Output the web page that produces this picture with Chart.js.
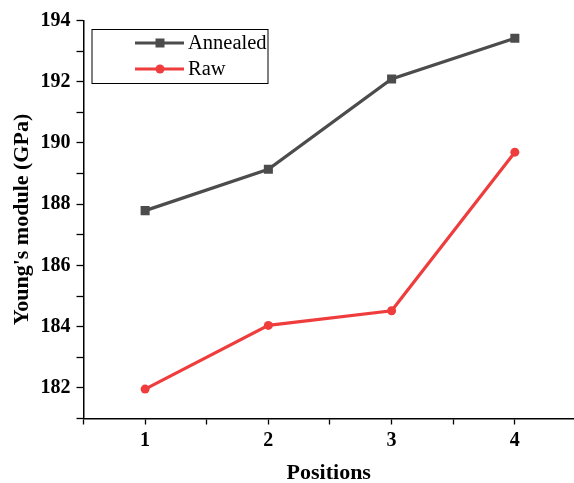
<!DOCTYPE html>
<html>
<head>
<meta charset="utf-8">
<script src="https://cdn.jsdelivr.net/npm/chart.js@4.4.0/dist/chart.umd.min.js"></script>
<style>
  html, body { margin: 0; padding: 0; background: #ffffff; }
  #wrap { width: 574px; height: 483px; }
</style>
</head>
<body>
<div id="wrap"><canvas id="chart" width="574" height="483"></canvas></div>
<script>
// Measurement positions along the specimen
const positions = [1, 2, 3, 4];
// Young's modulus (GPa) at each position
const annealed = [187.79, 189.14, 192.09, 193.42];
const raw = [181.96, 184.04, 184.52, 189.70];
const seriesNames = ['Annealed', 'Raw'];
const xTitle = 'Positions';
const yTitle = "Young's module (GPa)";

const serif = "'Liberation Serif', 'Times New Roman', serif";
const grey = '#4c4c4c';
const red = '#ef3d3d';

function toPoints(vals) {
  return positions.map((p, i) => ({ x: p, y: vals[i] }));
}

// Boxed legend drawn inside the plot area, upper left
const boxedLegend = {
  id: 'boxedLegend',
  afterDraw(chart) {
    const ctx = chart.ctx;
    const area = chart.chartArea;
    const left = area.left + 8.5, top = 29.5, w = 176, h = 54;
    ctx.save();
    ctx.strokeStyle = '#000';
    ctx.lineWidth = 1;
    ctx.strokeRect(left, top, w, h);
    const rows = [43, 69];
    chart.data.datasets.forEach((ds, i) => {
      const y = rows[i];
      ctx.strokeStyle = ds.borderColor;
      ctx.lineWidth = 3;
      ctx.beginPath();
      ctx.moveTo(135, y);
      ctx.lineTo(184, y);
      ctx.stroke();
      ctx.fillStyle = ds.pointBackgroundColor;
      if (ds.pointStyle === 'rect') {
        ctx.fillRect(160 - 4.5, y - 4.5, 9, 9);
      } else {
        ctx.beginPath();
        ctx.arc(160, y, 4.5, 0, Math.PI * 2);
        ctx.fill();
      }
      ctx.fillStyle = '#000';
      ctx.font = '20.5px ' + serif;
      ctx.textBaseline = 'middle';
      ctx.textAlign = 'left';
      ctx.fillText(ds.label, 188, y + 1);
    });
    ctx.restore();
  }
};

new Chart(document.getElementById('chart'), {
  type: 'line',
  data: {
    datasets: [
      {
        label: seriesNames[0],
        data: toPoints(annealed),
        borderColor: grey,
        backgroundColor: grey,
        pointBackgroundColor: grey,
        pointBorderColor: grey,
        pointStyle: 'rect',
        pointRadius: 6.4,
        pointBorderWidth: 0,
        borderWidth: 3.2,
        tension: 0
      },
      {
        label: seriesNames[1],
        data: toPoints(raw),
        borderColor: red,
        backgroundColor: red,
        pointBackgroundColor: red,
        pointBorderColor: red,
        pointStyle: 'circle',
        pointRadius: 4.5,
        pointBorderWidth: 0,
        borderWidth: 3.2,
        tension: 0
      }
    ]
  },
  options: {
    responsive: false,
    animation: false,
    layout: { autoPadding: false, padding: { top: 20.5, right: 0, bottom: 0, left: 0 } },
    plugins: {
      legend: { display: false },
      tooltip: { enabled: false }
    },
    scales: {
      x: {
        type: 'linear',
        min: 0.5,
        max: 4.48,
        afterFit(scale) {
          scale.height = 64.5;
          scale.paddingLeft = 0;
          scale.paddingRight = 0;
        },
        afterBuildTicks(scale) {
          const t = [];
          for (let v = 0.5; v <= 4.0001; v += 0.5) t.push({ value: v });
          scale.ticks = t;
        },
        grid: {
          display: true,
          drawOnChartArea: false,
          drawTicks: true,
          tickLength: 6,
          tickWidth: 1.3,
          tickColor: '#000'
        },
        border: { display: true, color: '#000', width: 1.5 },
        ticks: {
          autoSkip: false,
          maxRotation: 0,
          padding: 4,
          color: '#000',
          font: { family: serif, size: 20, weight: 'bold' },
          callback: (v) => Number.isInteger(v) ? String(v) : ''
        },
        title: {
          display: true,
          text: xTitle,
          color: '#000',
          font: { family: serif, size: 22, weight: 'bold', lineHeight: 1 },
          padding: { top: 0, bottom: -1 }
        }
      },
      y: {
        type: 'linear',
        min: 181,
        max: 194,
        afterFit(scale) {
          scale.width = 83.5;
          scale.paddingTop = 0;
          scale.paddingBottom = 0;
        },
        afterBuildTicks(scale) {
          const t = [];
          for (let v = 181; v <= 194; v += 1) t.push({ value: v });
          scale.ticks = t;
        },
        grid: {
          display: true,
          drawOnChartArea: false,
          drawTicks: true,
          tickLength: 7,
          tickWidth: 1.3,
          tickColor: '#000'
        },
        border: { display: true, color: '#000', width: 1.5 },
        ticks: {
          autoSkip: false,
          padding: 6,
          color: '#000',
          font: { family: serif, size: 20, weight: 'bold' },
          callback: (v) => (v % 2 === 0) ? String(v) : ''
        },
        title: {
          display: true,
          text: yTitle,
          color: '#000',
          font: { family: serif, size: 22, weight: 'bold', lineHeight: 1.2 },
          padding: { top: 9, bottom: 0 }
        }
      }
    }
  },
  plugins: [boxedLegend]
});
</script>
</body>
</html>
